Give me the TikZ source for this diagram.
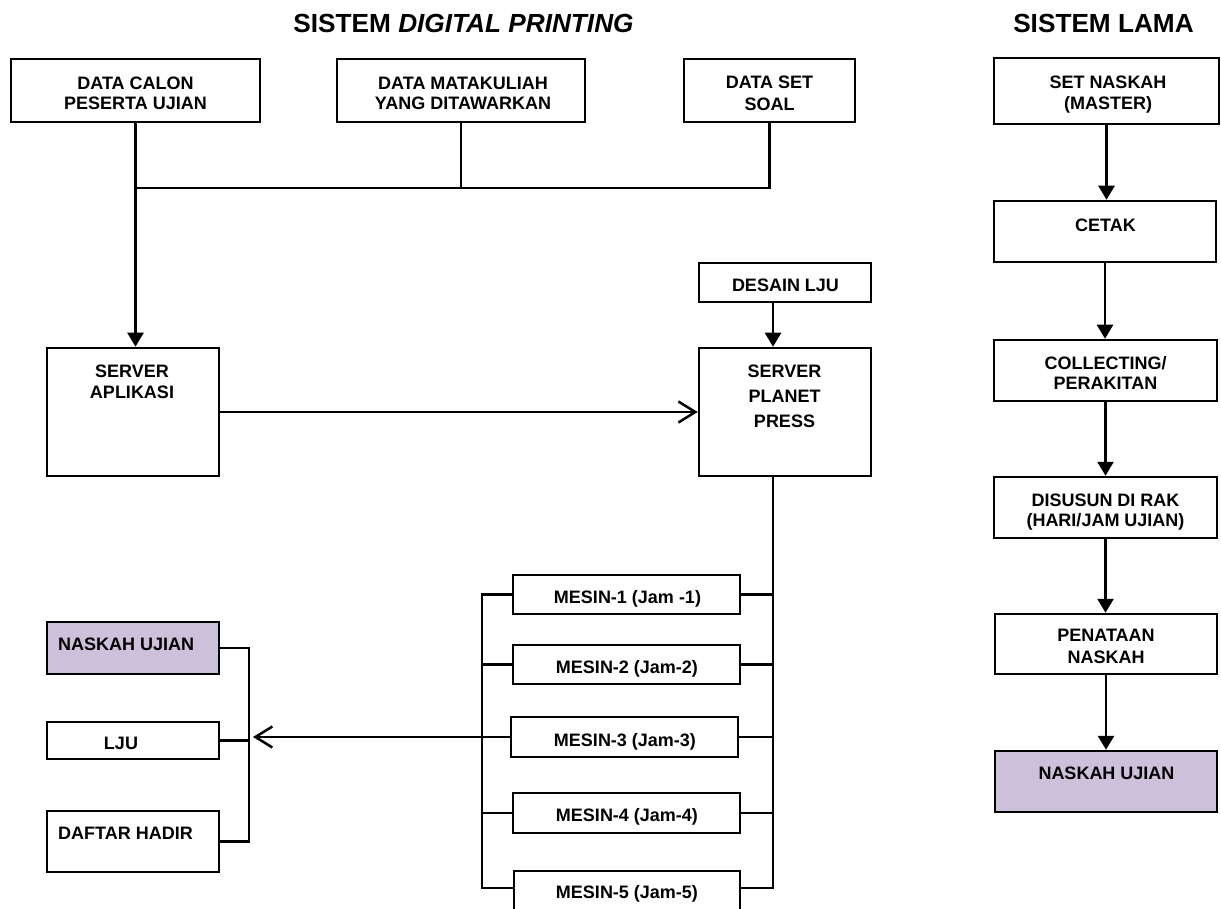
\documentclass[tikz,border=0pt]{standalone}
\usepackage{fontspec}
\setmainfont{Liberation Sans}
\usetikzlibrary{arrows.meta}
\definecolor{lav}{RGB}{204,192,218}
\begin{document}
\begin{tikzpicture}[x=1pt,y=-1pt,
  ln/.style={line width=2.5pt,black},
  bx/.style={draw=black,line width=2.5pt,inner sep=0pt,fill=white},
  hl/.style={bx,fill=lav},
  tx/.style={inner sep=0pt,align=center,font=\bfseries\fontsize{18}{21}\selectfont},
  ttl/.style={inner sep=0pt,font=\bfseries\fontsize{26.2}{30}\selectfont},
  arr/.style={-{Triangle[length=14pt,width=16pt]}},
  barb/.style={-{Straight Barb[length=17pt,width=21pt]}}]
\useasboundingbox (0,0) rectangle (1221,909);

% titles
\node[ttl,anchor=base] (t1) at (463.5,33) {SISTEM \textit{DIGITAL PRINTING}};
\node[ttl,anchor=base] (t2) at (1103.5,33) {SISTEM LAMA};

% boxes: digital printing
\node[bx,minimum width=249pt,minimum height=63pt] (dc) at (135.5,90.5) {};
\node[bx,minimum width=248pt,minimum height=63pt] (dm) at (461,90.5) {};
\node[bx,minimum width=171pt,minimum height=63pt] (ds) at (769.5,90.5) {};
\node[bx,minimum width=172pt,minimum height=39pt] (dl) at (785,282.5) {};
\node[bx,minimum width=172pt,minimum height=128pt] (spp) at (785,412) {};
\node[bx,minimum width=172pt,minimum height=128pt] (sa) at (133,412) {};
\node[bx,minimum width=227pt,minimum height=39pt] (m1) at (626.5,594.5) {};
\node[bx,minimum width=227pt,minimum height=39pt] (m2) at (626.5,664.5) {};
\node[bx,minimum width=227pt,minimum height=40pt] (m3) at (624.5,737) {};
\node[bx,minimum width=227pt,minimum height=40pt] (m4) at (626.5,813) {};
\node[bx,minimum width=226pt,minimum height=40pt] (m5) at (627,891) {};
\node[hl,minimum width=172pt,minimum height=52pt] (nu) at (133,648) {};
\node[bx,minimum width=172pt,minimum height=37pt] (lju) at (133,740.5) {};
\node[bx,minimum width=172pt,minimum height=61pt] (dh) at (133,841.5) {};

% boxes: sistem lama
\node[bx,minimum width=225pt,minimum height=66pt] (sn) at (1106.5,91) {};
\node[bx,minimum width=222pt,minimum height=61pt] (ce) at (1105,231.5) {};
\node[bx,minimum width=223pt,minimum height=61pt] (co) at (1105.5,370.5) {};
\node[bx,minimum width=223pt,minimum height=61pt] (di) at (1105.5,507.5) {};
\node[bx,minimum width=222pt,minimum height=60pt] (pe) at (1106,644) {};
\node[hl,minimum width=222pt,minimum height=61pt] (nr) at (1106,781.5) {};

% texts
\node[tx,anchor=north,font=\bfseries\fontsize{18}{20}\selectfont] (dc-t) at (135.5,76.5) {DATA CALON\\PESERTA UJIAN};
\node[tx,anchor=north,font=\bfseries\fontsize{18}{20}\selectfont] (dm-t) at (463,76.5) {DATA MATAKULIAH\\YANG DITAWARKAN};
\node[tx,anchor=north,font=\bfseries\fontsize{18}{22}\selectfont] (ds-t) at (769.5,75.5) {DATA SET\\SOAL};
\node[tx,anchor=base] (dl-t) at (785.5,291.5) {DESAIN LJU};
\node[tx,anchor=north,font=\bfseries\fontsize{18}{25}\selectfont] (spp-t) at (784.5,364.5) {SERVER\\PLANET\\PRESS};
\node[tx,anchor=north] (sa-t) at (132,364.5) {SERVER\\APLIKASI};
\node[tx,anchor=base] (m1-t) at (627.5,603.5) {MESIN-1 (Jam -1)};
\node[tx,anchor=base] (m2-t) at (627,673.5) {MESIN-2 (Jam-2)};
\node[tx,anchor=base] (m3-t) at (625,746.5) {MESIN-3 (Jam-3)};
\node[tx,anchor=base] (m4-t) at (627,821.5) {MESIN-4 (Jam-4)};
\node[tx,anchor=base] (m5-t) at (627,898.5) {MESIN-5 (Jam-5)};
\node[tx,anchor=base west] (nu-t) at (58,650.5) {NASKAH UJIAN};
\node[tx,anchor=base] (lju-t) at (121,749.5) {LJU};
\node[tx,anchor=base west] (dh-t) at (58,839.5) {DAFTAR HADIR};

\node[tx,anchor=north] (sn-t) at (1108,75.5) {SET NASKAH\\(MASTER)};
\node[tx,anchor=base] (ce-t) at (1105.5,231.5) {CETAK};
\node[tx,anchor=north,font=\bfseries\fontsize{18}{20}\selectfont] (co-t) at (1105.5,356.5) {COLLECTING/\\PERAKITAN};
\node[tx,anchor=north,font=\bfseries\fontsize{18}{20}\selectfont] (di-t) at (1105.5,493.5) {DISUSUN DI RAK\\(HARI/JAM UJIAN)};
\node[tx,anchor=north,font=\bfseries\fontsize{18}{22}\selectfont] (pe-t) at (1106,628.5) {PENATAAN\\NASKAH};
\node[tx,anchor=base] (nr-t) at (1106.5,779.5) {NASKAH UJIAN};

% helper coordinates
\coordinate (busR) at (771,188);
\coordinate (rb) at ([xshift=-12pt]spp.south);
\coordinate (lb) at (482,594.5);
\coordinate (lbr) at (249,737);

% connectors: digital printing
\draw[ln,arr] (dc.south) -- (dc.south |- sa.north);
\draw[ln] (dc.south |- busR) -| (ds.south);
\draw[ln] (dm.south) -- (dm.south |- busR);
\draw[ln,barb] (sa.east) -- (spp.west);
\draw[ln,arr] ([xshift=-12pt]dl.south) -- ([xshift=-12pt]spp.north);
\draw[ln] (rb) |- ([yshift=3pt]m5.east);
\draw[ln] (m1.east) -- (m1.east -| rb);
\draw[ln] (m2.east) -- (m2.east -| rb);
\draw[ln] (m3.east) -- (m3.east -| rb);
\draw[ln] (m4.east) -- (m4.east -| rb);
\draw[ln] (m1.west) -- (m1.west -| lb) |- ([yshift=3pt]m5.west);
\draw[ln] (m2.west) -- (m2.west -| lb);
\draw[ln] (m4.west) -- (m4.west -| lb);
\draw[ln,barb] (m3.west) -- ([xshift=4pt]m3.west -| lbr);
\draw[ln] (nu.east) -- (nu.east -| lbr) -- (dh.east -| lbr) -- (dh.east);
\draw[ln] (lju.east) -- (lju.east -| lbr);

% connectors: sistem lama
\draw[ln,arr] (sn.south) -- (sn.south |- ce.north);
\draw[ln,arr] (ce.south) -- (ce.south |- co.north);
\draw[ln,arr] (co.south) -- (co.south |- di.north);
\draw[ln,arr] (di.south) -- (di.south |- pe.north);
\draw[ln,arr] (pe.south) -- (pe.south |- nr.north);
\end{tikzpicture}
\end{document}
